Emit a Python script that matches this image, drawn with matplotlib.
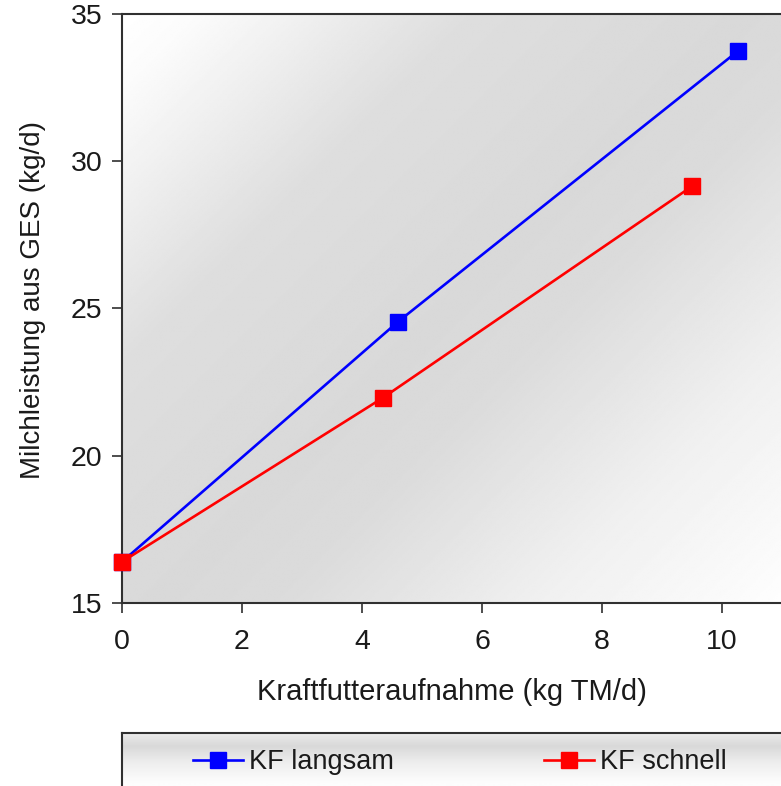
import numpy as np
import matplotlib
matplotlib.use("Agg")
import matplotlib.pyplot as plt

plt.rcParams['font.family'] = ['Liberation Sans', 'DejaVu Sans']

# ---- data ----
x_langsam = [0.0, 4.6, 10.27]
y_langsam = [16.4, 24.55, 33.75]
x_schnell = [0.0, 4.35, 9.5]
y_schnell = [16.4, 21.97, 29.15]
series_labels = ["KF langsam", "KF schnell"]
x_ticks = [0, 2, 4, 6, 8, 10]
y_ticks = [15, 20, 25, 30, 35]
x_label = "Kraftfutteraufnahme (kg TM/d)"
y_label = "Milchleistung aus GES (kg/d)"

W, H = 781, 786
fig = plt.figure(figsize=(W / 100, H / 100), dpi=100)
fig.patch.set_facecolor("white")

# main axes (pixel geometry)
L, R, T, B = 122, 782, 14, 603
ax = fig.add_axes([L / W, 1 - B / H, (R - L) / W, (B - T) / H])

# diagonal gradient background
nx, ny = 400, 400
u = np.linspace(0, 1, nx)[None, :]
v = np.linspace(0, 1, ny)[:, None]
t = (u * (R - L) + v * (B - T)) / ((R - L) + (B - T))
prof_t = [0.0, 0.06, 0.28, 0.5, 0.6, 0.8, 1.0]
prof_g = [1.0, 0.985, 0.87, 0.85, 0.86, 0.94, 0.995]
g = np.interp(t, prof_t, prof_g)
ax.imshow(g, extent=[0, 1, 0, 1], transform=ax.transAxes, aspect='auto',
          cmap='gray', vmin=0, vmax=1, zorder=0, interpolation='bilinear')

l1, = ax.plot(x_langsam, y_langsam, color='#0000ff', lw=1.9, marker='s',
              markersize=11.5, clip_on=False, zorder=3)
l2, = ax.plot(x_schnell, y_schnell, color='#ff0000', lw=1.9, marker='s',
              markersize=11.5, clip_on=False, zorder=4)

ax.set_xlim(0, 11)
ax.set_ylim(15, 35)
ax.set_xticks(x_ticks)
ax.set_yticks(y_ticks)
ax.tick_params(axis='both', direction='out', length=7, width=1.2,
               color='#303030', labelsize=20.5, labelcolor='#1a1a1a')
ax.tick_params(axis='x', pad=12)
ax.tick_params(axis='y', pad=7)
for s in ['left', 'top', 'bottom']:
    ax.spines[s].set_color('#303030')
    ax.spines[s].set_linewidth(1.5)
ax.spines['right'].set_visible(False)

ax.set_xlabel(x_label, fontsize=21, color='#1a1a1a', labelpad=16)
ax.set_ylabel(y_label, fontsize=20, color='#1a1a1a')
ax.yaxis.set_label_coords(-(122 - 46) / (R - L), 1 - (300 - T) / (B - T))

# legend box
LT = 733
lax = fig.add_axes([L / W, -0.05, (R - L) / W, (H - LT) / H + 0.05])
lax.set_xlim(0, 1)
lax.set_ylim(0, 1)
lax.set_xticks([])
lax.set_yticks([])
hpx = (H - LT) + 0.05 * H
yy = np.linspace(0, hpx, 200)  # from top, px
lg = np.interp(yy, [0, 4, 14, 30, 50, hpx], [0.95, 0.9, 0.85, 0.93, 0.99, 1.0])
lax.imshow(lg[:, None], extent=[0, 1, 0, 1], transform=lax.transAxes,
           aspect='auto', cmap='gray', vmin=0, vmax=1, zorder=0,
           interpolation='bilinear')
for s in ['left', 'top']:
    lax.spines[s].set_color('#303030')
    lax.spines[s].set_linewidth(1.5)
lax.spines['right'].set_visible(False)
lax.spines['bottom'].set_visible(False)

fs_leg = 19.5
em = fs_leg * 100 / 72
leg = fig.legend([l1, l2], series_labels, loc='center left',
                 bbox_to_anchor=(193 / W, 1 - 762 / H),
                 ncol=2, frameon=False, fontsize=fs_leg,
                 handlelength=50 / em, handletextpad=6 / em,
                 columnspacing=150 / em, borderpad=0, borderaxespad=0,
                 markerscale=1.0)
for txt in leg.get_texts():
    txt.set_color('#1a1a1a')

fig.savefig("out.png", dpi=100, facecolor='white')
